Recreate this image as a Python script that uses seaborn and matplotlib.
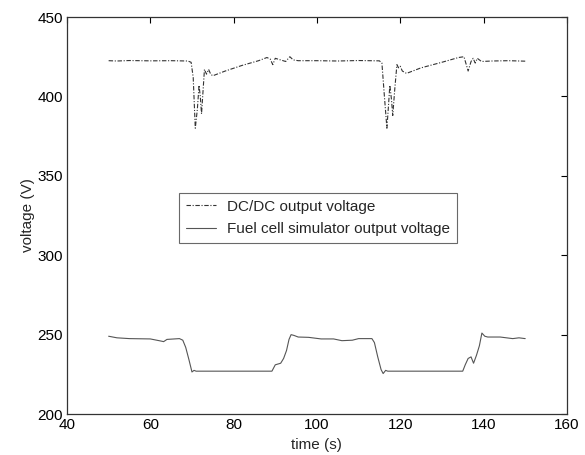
import pandas as pd
import seaborn as sns
import matplotlib.pyplot as plt

# DC/DC output voltage (upper trace)
dc_time = [50, 52, 55, 60, 65, 69, 69.8, 70.3, 70.8, 71.3, 71.7, 72.0, 72.3, 72.7, 73.0, 73.5, 74.0, 74.5,
           75.0, 78, 82, 86, 88, 88.8, 89.4, 90.0, 92.5, 93.5, 94.3, 95.5, 100, 105, 110, 115.0,
           115.6, 116.2, 116.8, 117.2, 117.5, 117.9, 118.2, 118.7, 119.2, 119.6, 120.0, 120.5, 121.5,
           125, 130, 134, 135.3, 136.3, 137.0, 137.5, 138.0, 138.5, 139.5, 142, 146, 150]
dc_volt = [422.5, 422.3, 422.6, 422.4, 422.5, 422.3, 421.5, 412, 380, 392, 407, 400, 389, 405, 417, 414, 417, 414,
           413, 416, 419.5, 422.5, 424.5, 423.5, 420, 424, 422, 425, 423, 422.5, 422.5, 422.3, 422.6, 422.4,
           421, 400, 380, 395, 407, 398, 388, 405, 420, 418, 419, 416, 414.5,
           418, 421.5, 424.5, 425, 416, 422, 424, 421, 424, 422, 422.3, 422.5, 422.2]

# Fuel cell simulator output voltage (lower trace)
fc_time = [50, 52, 55, 60, 62.5, 63.2, 64, 67, 67.8, 68.5, 69.3, 70.0, 70.5, 71, 75, 80, 85, 89.2,
           90.0, 91.3, 92.0, 92.7, 93.3, 93.8, 94.5, 95.5, 98, 101, 104, 106, 108.5, 110, 113.2,
           113.8, 114.6, 115.4, 115.9, 116.5, 117, 120, 125, 130, 135.0, 135.6, 136.3, 137.0,
           137.6, 138.3, 139.0, 139.6, 140.3, 141, 144, 147, 148.5, 150]
fc_volt = [249, 248, 247.5, 247.3, 246, 245.6, 247, 247.5, 246.5, 242, 234, 226.5, 227.5, 227, 227, 227, 227, 227,
           231, 232, 235, 240, 247, 250, 249.5, 248.5, 248.3, 247.3, 247.3, 246.2, 246.5, 247.5, 247.5,
           245, 236, 228, 225.5, 227.5, 227, 227, 227, 227, 227, 231, 235, 236,
           232, 237, 243, 251, 249, 248.5, 248.5, 247.5, 248, 247.5]

sns.set_style("white")
plt.rcParams['font.family'] = ['Liberation Sans', 'DejaVu Sans']

fig = plt.figure(figsize=(5.85, 4.55), dpi=100)
ax = fig.add_axes([0.1145, 0.09, 0.8545, 0.8726])

dc = pd.DataFrame({"time": dc_time, "voltage": dc_volt})
fc = pd.DataFrame({"time": fc_time, "voltage": fc_volt})

sns.lineplot(data=dc, x="time", y="voltage", ax=ax, sort=False, estimator=None,
             color="#333333", lw=0.8, linestyle=(0, (4, 1.5, 1, 1.5)), label="DC/DC output voltage")
sns.lineplot(data=fc, x="time", y="voltage", ax=ax, sort=False, estimator=None,
             color="#555555", lw=0.8, linestyle="-", label="Fuel cell simulator output voltage")

ax.set_xlim(40, 160)
ax.set_ylim(200, 450)
ax.set_xticks([40, 60, 80, 100, 120, 140, 160])
ax.set_yticks([200, 250, 300, 350, 400, 450])
ax.set_xlabel("time (s)", fontsize=11, labelpad=4)
ax.set_ylabel("voltage (V)", fontsize=11, labelpad=2)
ax.tick_params(direction="in", length=4, width=0.8, labelsize=11, top=True, right=True,
               colors="black", pad=3)
for s in ax.spines.values():
    s.set_color("#333333")
    s.set_linewidth(0.9)

leg = ax.legend(loc="center", bbox_to_anchor=(0.502, 0.494), fontsize=11, frameon=True,
                fancybox=False, edgecolor="#444444", handlelength=2.0, borderpad=0.45,
                labelspacing=0.55, handletextpad=0.7)
leg.get_frame().set_linewidth(0.8)

fig.savefig("out.png", dpi=100)
